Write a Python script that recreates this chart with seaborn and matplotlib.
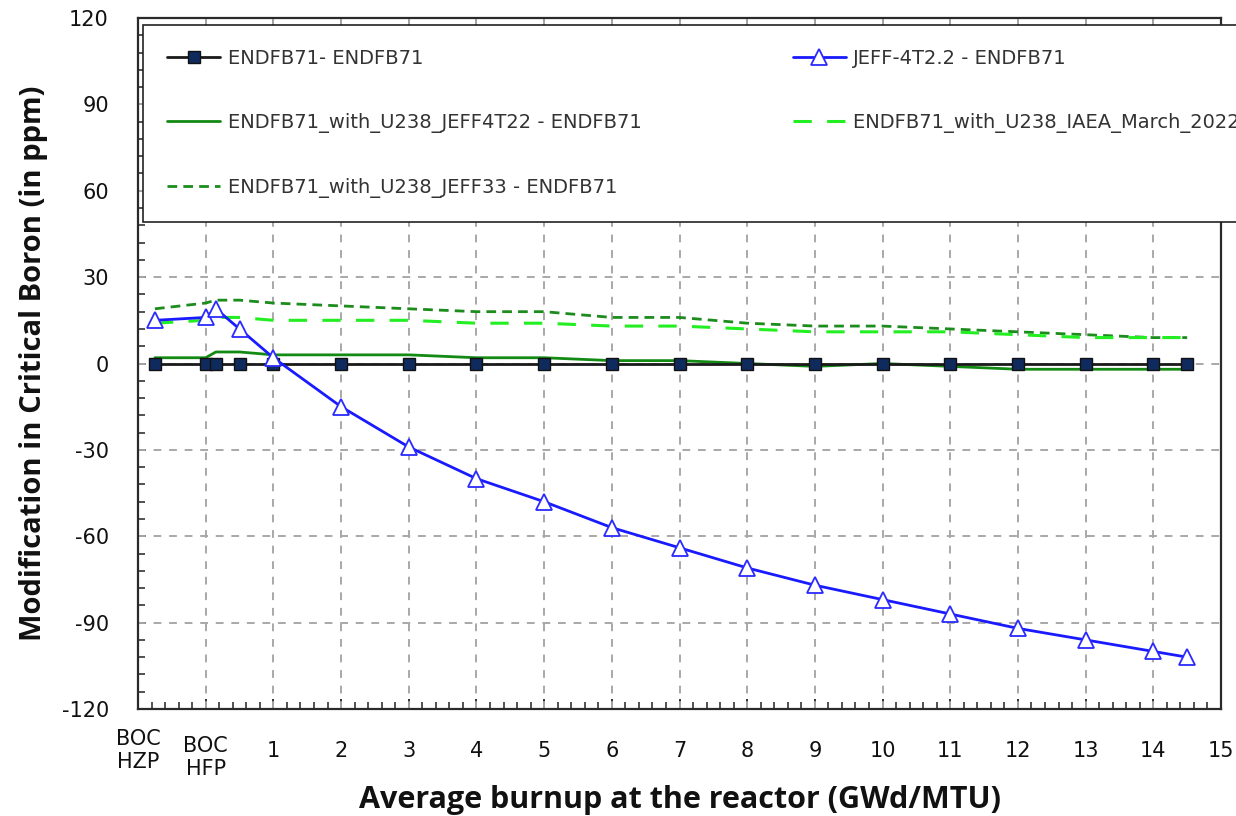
import numpy as np
import pandas as pd
import matplotlib
matplotlib.use("Agg")
import matplotlib.pyplot as plt
from matplotlib.ticker import MultipleLocator, FixedLocator
import matplotlib.transforms as mtransforms
import seaborn as sns

# ---------------- data ----------------
burnup = [-0.75, 0, 0.15, 0.5, 1, 2, 3, 4, 5, 6, 7, 8, 9, 10, 11, 12, 13, 14, 14.5]
endfb71 = [0] * 19
jeff4t22_full = [15, 16, 19, 12, 2, -15, -29, -40, -48, -57, -64, -71, -77, -82, -87, -92, -96, -100, -102]
u238_jeff4t22 = [2, 2, 4, 4, 3, 3, 3, 2, 2, 1, 1, 0, -1, 0, -1, -2, -2, -2, -2]
u238_iaea = [14, 15, 16, 16, 15, 15, 15, 14, 14, 13, 13, 12, 11, 11, 11, 10, 9, 9, 9]
u238_jeff33 = [19, 21, 22, 22, 21, 20, 19, 18, 18, 16, 16, 14, 13, 13, 12, 11, 10, 9, 9]

labels = {
    "endfb71": "ENDFB71- ENDFB71",
    "jeff": "JEFF-4T2.2 - ENDFB71",
    "u238_jeff4t22": "ENDFB71_with_U238_JEFF4T22 - ENDFB71",
    "u238_iaea": "ENDFB71_with_U238_IAEA_March_2022 - ENDFB71",
    "u238_jeff33": "ENDFB71_with_U238_JEFF33 - ENDFB71",
}
xtick_pos = list(range(-1, 16))
xtick_labels = ["BOC\nHZP", "BOC\nHFP"] + [str(i) for i in range(1, 16)]
ytick_pos = list(range(-120, 121, 30))

df = pd.DataFrame({
    "x": burnup,
    "endfb71": endfb71,
    "jeff": jeff4t22_full,
    "u238_jeff4t22": u238_jeff4t22,
    "u238_iaea": u238_iaea,
    "u238_jeff33": u238_jeff33,
})

sns.set_theme(style="white")
plt.rcParams["font.family"] = ["DejaVu Sans"]
plt.rcParams["axes.unicode_minus"] = False

fig = plt.figure(figsize=(12.36, 8.16), dpi=100)
ax = fig.add_axes([138 / 1236, 1 - 709 / 816, (1221 - 138) / 1236, (709 - 18) / 816])

lw = 2.0
sns.lineplot(data=df, x="x", y="endfb71", ax=ax, color="#1a1a1a", lw=lw,
             marker="s", markersize=8, markerfacecolor="#0f2a5c",
             markeredgecolor="#111111", markeredgewidth=1.0,
             sort=False, estimator=None, label=labels["endfb71"], zorder=4)
sns.lineplot(data=df, x="x", y="u238_jeff4t22", ax=ax, color="#138a13", lw=lw,
             sort=False, estimator=None, label=labels["u238_jeff4t22"], zorder=3)
sns.lineplot(data=df, x="x", y="u238_jeff33", ax=ax, color="#1c8c1c", lw=lw,
             dashes=(3.5, 2.2), sort=False, estimator=None,
             label=labels["u238_jeff33"], zorder=3)
sns.lineplot(data=df, x="x", y="jeff", ax=ax, color="#1a1aff", lw=lw,
             marker="^", markersize=11, markerfacecolor="white",
             markeredgecolor="#2a2aff", markeredgewidth=1.3,
             sort=False, estimator=None, label=labels["jeff"], zorder=5)
sns.lineplot(data=df, x="x", y="u238_iaea", ax=ax, color="#22ee22", lw=2.2,
             dashes=(6, 5), sort=False, estimator=None,
             label=labels["u238_iaea"], zorder=3)

ax.set_xlim(-1, 15)
ax.set_ylim(-120, 120)
ax.xaxis.set_major_locator(FixedLocator(xtick_pos))
ax.set_xticklabels(xtick_labels)
ax.xaxis.set_minor_locator(MultipleLocator(0.2))
ax.yaxis.set_major_locator(FixedLocator(ytick_pos))
ax.yaxis.set_minor_locator(MultipleLocator(6))

ax.tick_params(axis="x", which="major", direction="in", length=7, width=1.3,
               top=True, bottom=True, labelsize=15, pad=30, colors="#222222",
               labelcolor="#111111")
ax.tick_params(axis="x", which="minor", direction="in", length=5, width=1.1,
               bottom=True, top=False, colors="#222222")
ax.tick_params(axis="y", which="major", direction="in", length=6, width=1.3,
               left=True, right=False, labelsize=15, pad=21, colors="#222222",
               labelcolor="#111111")
ax.tick_params(axis="y", which="minor", direction="in", length=5, width=1.1,
               left=True, right=False, colors="#222222")

for i, t in enumerate(ax.get_xticklabels()):
    t.set_verticalalignment("center")
    if i == 1:
        t.set_transform(t.get_transform() +
                        mtransforms.ScaledTranslation(0, -7 / 100, fig.dpi_scale_trans))

# grid
for xv in range(0, 15):
    ax.axvline(xv, color="#a8a8a8", lw=1.4, ls=(0, (4, 4)), zorder=1)
for yv in ytick_pos[1:-1]:
    ax.axhline(yv, color="#a8a8a8", lw=1.4, ls=(0, (4, 4)), zorder=1)

for s in ax.spines.values():
    s.set_color("#2a2a2a")
    s.set_linewidth(1.6)

ax.set_xlabel("Average burnup at the reactor (GWd/MTU)", fontsize=22,
              fontweight="bold", family=["Open Sans", "DejaVu Sans"], labelpad=4,
              color="#111111")
ax.set_ylabel("Modification in Critical Boron (in ppm)", fontsize=21,
              fontweight="bold", family=["Open Sans", "DejaVu Sans"], labelpad=10,
              color="#111111")

# legend
handles, labs = ax.get_legend_handles_labels()
order = [labels["endfb71"], labels["u238_jeff4t22"], labels["u238_jeff33"],
         labels["jeff"], labels["u238_iaea"]]
hmap = dict(zip(labs, handles))
leg = ax.legend([hmap[l] for l in order], order, ncol=2,
                loc="upper left", bbox_to_anchor=(143 / 1236, 1 - 25 / 816),
                bbox_transform=fig.transFigure,
                fontsize=14, frameon=True, fancybox=False, edgecolor="#222222",
                framealpha=1, handlelength=2.7, handletextpad=0.4,
                labelspacing=2.3, borderpad=1.25, columnspacing=7.8,
                borderaxespad=0)
leg.get_frame().set_linewidth(1.2)
for t in leg.get_texts():
    t.set_color("#333333")

fig.savefig("out.png", dpi=100)
